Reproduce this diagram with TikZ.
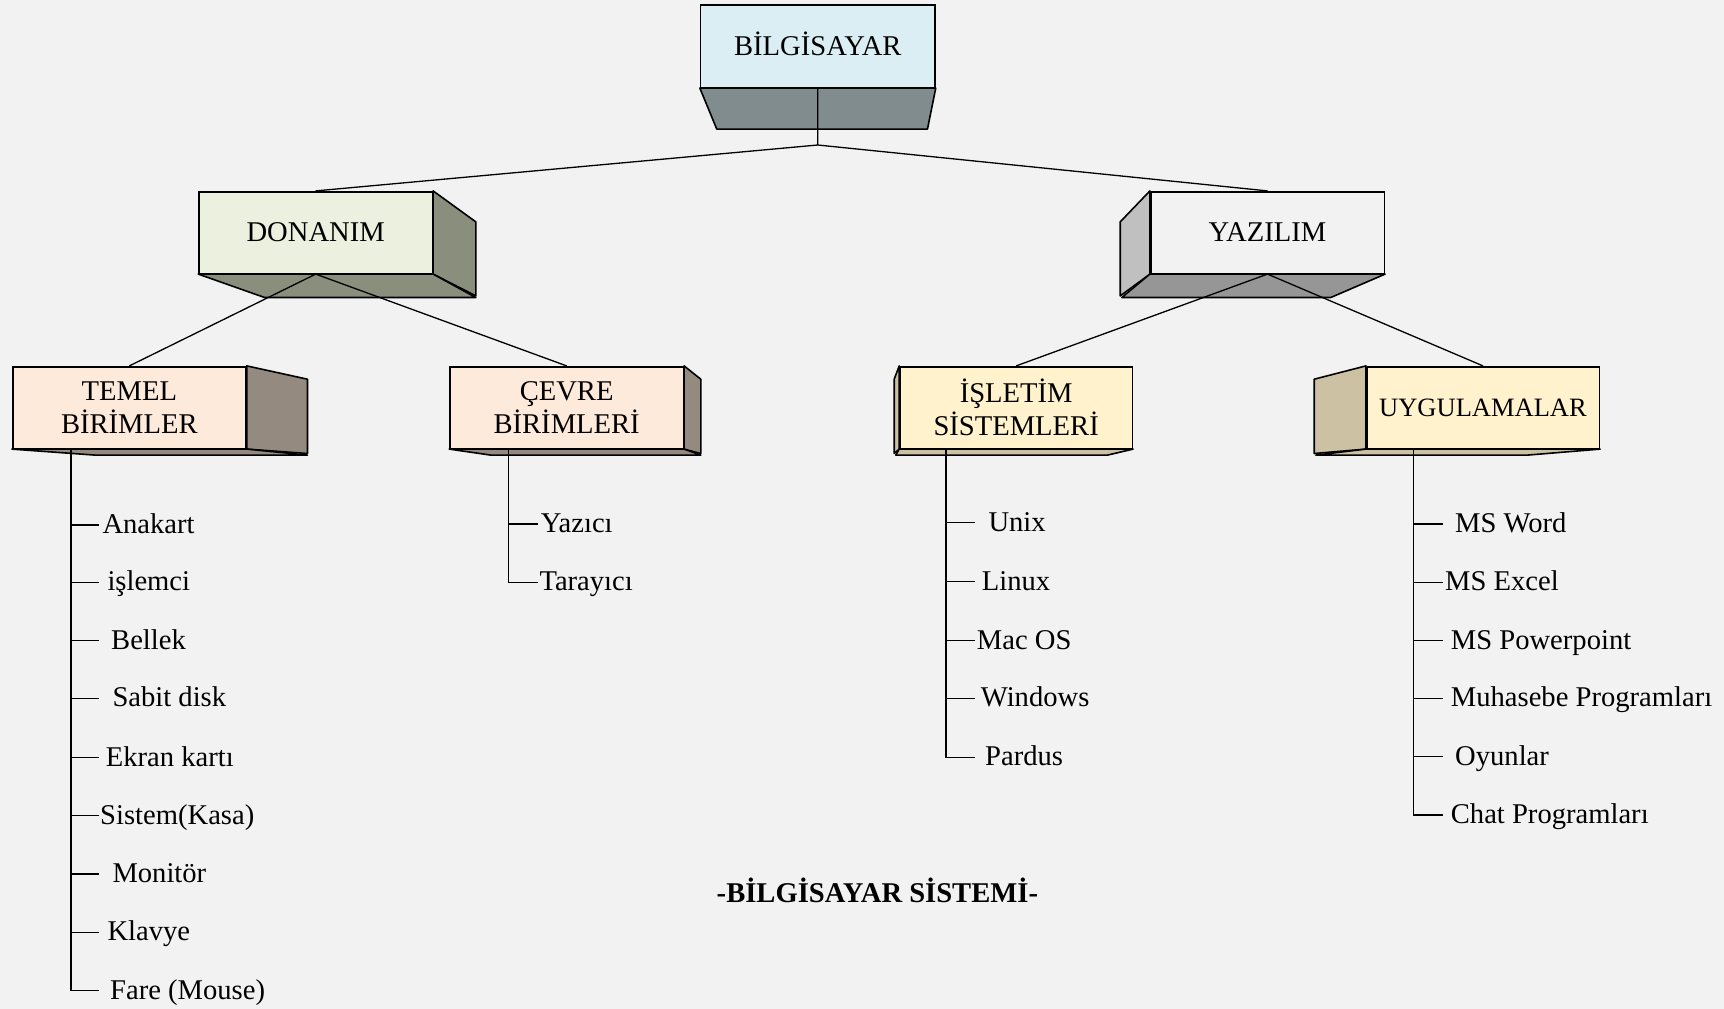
\documentclass[tikz,border=0pt]{standalone}
\usepackage{fontspec}
\setmainfont{Liberation Serif}
\definecolor{bgray}{HTML}{F2F2F2}
\definecolor{pcfront}{HTML}{DAEEF3}
\definecolor{pcbase}{RGB}{128,140,141}
\definecolor{hwfront}{HTML}{EBF1DE}
\definecolor{hwside}{RGB}{138,142,125}
\definecolor{swside}{RGB}{192,192,192}
\definecolor{swbase}{RGB}{150,150,150}
\definecolor{peach}{HTML}{FDEADA}
\definecolor{peachside}{RGB}{148,138,128}
\definecolor{cream}{HTML}{FFF2CC}
\definecolor{creamside}{RGB}{204,194,163}
\tikzstyle{box} = [rectangle, draw=black, line width=1.6pt, inner sep=0pt, align=center, minimum height=81.6pt, font=\fontsize{28.6}{33}\selectfont]
\tikzstyle{face} = [draw=black, line width=1.6pt, line join=round]
\tikzstyle{leaf} = [anchor=west, inner ysep=0pt, text height=18.6pt, text depth=2pt, font=\fontsize{28.6}{33}\selectfont]
\tikzstyle{link} = [line width=1.3pt]

\begin{document}
\begin{tikzpicture}[x=1pt,y=-1pt]

\path[use as bounding box, fill=bgray] (0,0) rectangle (1724,1009);

\node (pc) [box, fill=pcfront, minimum width=234.3pt, minimum height=82.6pt, text height=19pt, text depth=0pt] at (817.8,46) {BİLGİSAYAR};
\filldraw[face, fill=pcbase] (pc.south west) -- (pc.south east) -- ++(-8.3,41) -- ++(-210.7,0) -- cycle;

\node (hw) [box, fill=hwfront, minimum width=233.3pt] at (315.7,232.5) {DONANIM};
\filldraw[face, fill=hwside] (hw.north east) -- ++(42.7,31) -- ++(0,74) -- (hw.south east) -- cycle;
\filldraw[face, fill=hwside] (hw.south west) -- (hw.south east) -- ++(42.7,23.4) -- ++(-211.3,0) -- cycle;

\node (sw) [box, fill=bgray, minimum width=233.6pt] at (1267.5,232.5) {YAZILIM};
\filldraw[face, fill=swside] (sw.north west) -- ++(-29.7,31) -- ++(0,74) -- (sw.south west) -- cycle;
\filldraw[face, fill=swbase] (sw.south west) -- (sw.south east) -- ++(-54.3,23.4) -- ++(-209,0) -- cycle;

\node (basic) [box, fill=peach, minimum width=233.3pt] at (129.35,407.5) {TEMEL\\BİRİMLER};
\filldraw[face, fill=peachside] (basic.north east) -- ++(60.7,13.3) -- ++(0,74.3) -- (basic.south east) -- cycle;
\filldraw[face, fill=peachside] (basic.south west) -- (basic.south east) -- ++(60.7,6) -- ++(-212.4,0) -- cycle;

\node (periph) [box, fill=peach, minimum width=233.3pt] at (566.65,407.5) {ÇEVRE\\BİRİMLERİ};
\filldraw[face, fill=peachside] (periph.north east) -- ++(16.7,13.3) -- ++(0,74.3) -- (periph.south east) -- cycle;
\filldraw[face, fill=peachside] (periph.south west) -- (periph.south east) -- ++(16.7,6) -- ++(-210,0) -- cycle;

\node (os) [box, fill=cream, minimum width=232.3pt] at (1016.15,407.5) {İŞLETİM\\SİSTEMLERİ};
\filldraw[face, fill=creamside] (os.north west) -- ++(-5,13.3) -- ++(0,74.3) -- (os.south west) -- cycle;
\filldraw[face, fill=creamside] (os.south west) -- (os.south east) -- ++(-25.6,6) -- ++(-211.7,0) -- cycle;

\node (apps) [box, fill=cream, minimum width=232.6pt, font=\fontsize{26.5}{31}\selectfont] at (1483,407.5) {UYGULAMALAR};
\filldraw[face, fill=creamside] (apps.north west) -- ++(-51.7,13.3) -- ++(0,74.3) -- (apps.south west) -- cycle;
\filldraw[face, fill=creamside] (apps.south west) -- (apps.south east) -- ++(-72.6,6) -- ++(-211.7,0) -- cycle;

% tree links
\coordinate (pcjoin) at (817.7,145);
\draw[link] (pc.south) -- (pcjoin);
\draw[link] (pcjoin) -- (hw.north);
\draw[link] (pcjoin) -- (sw.north);
\draw[link] (hw.south) -- (basic.north);
\draw[link] (hw.south) -- (periph.north);
\draw[link] (sw.south) -- (os.north);
\draw[link] (sw.south) -- (apps.north);

% leaves
\coordinate (basictop) at (71,448.3);
\foreach \name/\y/\gap/\txt in {a1/525/3.3/Anakart, a2/582.3/8.3/işlemci, a3/640.7/12/Bellek, a4/698.3/13.3/Sabit disk, a5/757.7/6.7/Ekran kartı, a6/815.7/1/Sistem(Kasa), a7/874/13.3/Monitör, a8/932.3/8.3/Klavye, a9/990.7/11/Fare (Mouse)} {
  \node (\name) [leaf, inner xsep=\gap pt] at (99,\y) {\txt};
  \draw[link] (basictop) |- (\name.west);
}

\coordinate (periphtop) at (508.3,448.3);
\foreach \name/\y/\gap/\txt in {b1/524/2.4/Yazıcı, b2/582.3/1/Tarayıcı} {
  \node (\name) [leaf, inner xsep=\gap pt] at (538.3,\y) {\txt};
  \draw[link] (periphtop) |- (\name.west);
}

\coordinate (ostop) at (946,448.3);
\foreach \name/\y/\gap/\txt in {c1/522.7/13.3/Unix, c2/581.7/6.7/Linux, c3/640.7/1.7/Mac OS, c4/698.3/5.7/Windows, c5/757.3/10/Pardus} {
  \node (\name) [leaf, inner xsep=\gap pt] at (975,\y) {\txt};
  \draw[link] (ostop) |- (\name.west);
}

\coordinate (appstop) at (1413.3,448.3);
\foreach \name/\y/\gap/\txt in {d1/524/12.3/MS Word, d2/582.3/2.3/MS Excel, d3/640.7/8/MS Powerpoint, d4/698.3/8/Muhasebe Programları, d5/756.7/12.3/Oyunlar, d6/815/8/Chat Programları} {
  \node (\name) [leaf, inner xsep=\gap pt] at (1442.7,\y) {\txt};
  \draw[link] (appstop) |- (\name.west);
}

\node (title) [font=\fontsize{28.6}{33}\selectfont\bfseries] at (877.4,890.6) {-BİLGİSAYAR SİSTEMİ-};

\end{tikzpicture}
\end{document}
